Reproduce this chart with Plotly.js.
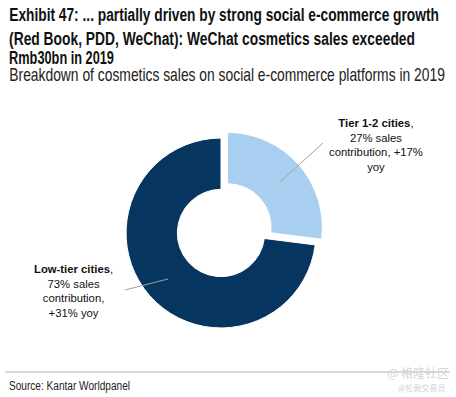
<!DOCTYPE html>
<html><head><meta charset="utf-8">
<script src="https://cdn.plot.ly/plotly-3.0.1.min.js"></script>
<style>html,body{margin:0;padding:0;background:#fff}</style>
</head><body>
<div id="chart" style="width:456px;height:397px"></div>
<script>
const categories = ["Tier 1-2 cities", "Low-tier cities"];
const shares = [27, 73];
const yoyGrowth = ["+17%", "+31%"];
const colors = ["#a9cff0", "#06365f"];
const pulls = [0.09, 0];

const W = 456, H = 397;
const px = x => x / W, py = y => 1 - y / H;
const sans = "Liberation Sans, Arial, sans-serif";

const trace = {
  type: "pie",
  labels: categories,
  values: shares,
  hole: 0.46,
  sort: false,
  direction: "clockwise",
  rotation: 0,
  pull: pulls,
  textinfo: "none",
  hoverinfo: "label+percent",
  marker: {colors: colors, line: {color: "#fff", width: 1}},
  domain: {x: [px(221 - 103.5), px(221 + 103.5)], y: [py(233 + 103.5), py(233 - 103.5)]},
  showlegend: false
};

// [text, x, y, size, bold, color, targetWidth]
const headerTexts = [
  ["Exhibit 47: ... partially driven by strong social e-commerce growth", 7, 15, 18.5, true, "#111", 430],
  ["(Red Book, PDD, WeChat): WeChat cosmetics sales exceeded", 7, 38, 18.5, true, "#111", 406],
  ["Rmb30bn in 2019", 7, 57.5, 18.5, true, "#111", 105],
  ["Breakdown of cosmetics sales on social e-commerce platforms in 2019", 7, 75.5, 18, false, "#222", 436],
  ["Source: Kantar Worldpanel", 7, 386, 12.5, false, "#222", 121]
];

const annotations = [];
const targets = {};
headerTexts.forEach(t => {
  targets[annotations.length] = t[6];
  annotations.push({text: t[4] ? "<b>" + t[0] + "</b>" : t[0], x: px(t[1]), y: py(t[2]),
    xref: "paper", yref: "paper", xanchor: "left", yanchor: "middle", showarrow: false,
    font: {family: sans, size: t[3], color: t[5]}});
});

annotations.push({text: "<b>" + categories[0] + "</b>,<br>" + shares[0] + "% sales<br>contribution, " + yoyGrowth[0] + "<br>yoy",
  x: px(376), y: py(145), xref: "paper", yref: "paper", xanchor: "center", yanchor: "middle", showarrow: false,
  align: "center", font: {family: sans, size: 11.3, color: "#111"}});
annotations.push({text: "<b>" + categories[1] + "</b>,<br>" + shares[1] + "% sales<br>contribution,<br>" + yoyGrowth[1] + " yoy",
  x: px(73), y: py(291), xref: "paper", yref: "paper", xanchor: "center", yanchor: "middle", showarrow: false,
  align: "center", font: {family: sans, size: 11.3, color: "#111"}});

annotations.push({text: "@ 格隆社区", x: px(451), y: py(372), xref: "paper", yref: "paper",
  xanchor: "right", yanchor: "middle", showarrow: false, font: {family: "Noto Sans CJK SC", size: 12, color: "#d6d6d6"}});
annotations.push({text: "@伦敦交易员", x: px(448), y: py(387), xref: "paper", yref: "paper",
  xanchor: "right", yanchor: "middle", showarrow: false, font: {family: "Noto Sans CJK SC", size: 8, color: "#d0d0d0"}});

const shapes = [
  {type: "line", xref: "paper", yref: "paper", x0: px(280), y0: py(182), x1: px(323), y1: py(143), line: {color: "#a0a0a0", width: 1}},
  {type: "line", xref: "paper", yref: "paper", x0: px(125), y0: py(290), x1: px(168), y1: py(279), line: {color: "#a0a0a0", width: 1}},
  {type: "line", xref: "paper", yref: "paper", x0: px(5), y0: py(372), x1: px(450), y1: py(372), line: {color: "#b0b0b0", width: 1}}
];

Plotly.newPlot("chart", [trace], {
  width: W, height: H,
  margin: {l: 0, r: 0, t: 0, b: 0},
  paper_bgcolor: "#fff",
  annotations: annotations,
  shapes: shapes
}, {staticPlot: true}).then(gd => {
  // condense header texts horizontally to mimic the narrow typeface
  gd.querySelectorAll(".annotation").forEach(g => {
    const idx = +g.getAttribute("data-index");
    if (!(idx in targets)) return;
    const t = g.querySelector("text.annotation-text");
    if (!t) return;
    const w = t.getBBox().width;
    if (w > 0) {
      const s = targets[idx] / w;
      t.style.transformBox = "fill-box";
      t.style.transformOrigin = "left center";
      t.style.transform = "scaleX(" + s + ")";
    }
  });
});
</script>
</body></html>
